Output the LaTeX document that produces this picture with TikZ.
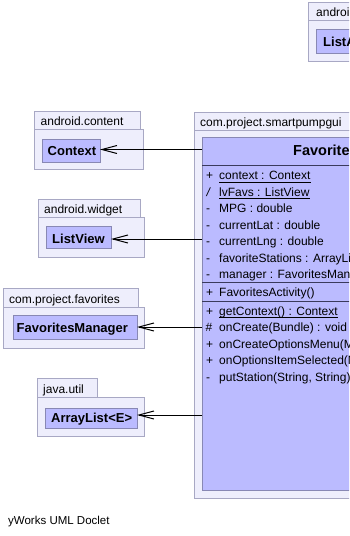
\documentclass[tikz,border=0pt]{standalone}
\usepackage{fontspec}
\setmainfont{Liberation Sans}
\usetikzlibrary{arrows.meta}
\definecolor{pkgfill}{HTML}{EEEEFC}
\definecolor{pkgline}{HTML}{A8A8C4}
\definecolor{clsfill}{HTML}{BBBBFF}
\definecolor{clsline}{HTML}{8888B4}
\definecolor{sepline}{HTML}{3A3A5C}

\begin{document}
\begin{tikzpicture}[x=1pt,y=-1pt,
  pkg/.style={draw=pkgline, fill=pkgfill, line width=1pt, anchor=north west, inner sep=0, outer sep=0},
  cls/.style={draw=clsline, fill=clsfill, line width=1pt, anchor=north west, inner sep=0, outer sep=0},
  pkglabel/.style={anchor=base west, inner sep=0, font=\fontsize{12}{14}\selectfont},
  clsname/.style={anchor=base west, inner sep=0, font=\fontsize{13}{15}\selectfont\bfseries},
  member/.style={anchor=base west, inner sep=0, font=\fontsize{12}{14}\selectfont},
  vis/.style={anchor=base west, inner sep=0, font=\fontsize{12}{14}\selectfont},
  sep/.style={draw=sepline, line width=1pt},
  uline/.style={draw=black, line width=0.9pt},
  dep/.style={draw=black, line width=1pt, -{Straight Barb[length=15pt,width=8pt,line width=1pt]}}
]
\useasboundingbox (0,0) rectangle (349,536);
\clip (0,0) rectangle (349,536);

% ---------- package android.widget (top right) ----------
\node[pkg, minimum width=120, minimum height=18] (pTopTab) at (308,2) {};
\node[pkg, minimum width=120, minimum height=41] (pTop) at (308,20) {};
\node[pkglabel] (pTopLbl) at (316,16) {android.widget};
\node[cls, minimum width=90, minimum height=24] (listAdapter) at (316,29) {};
\node[clsname] (listAdapterLbl) at (323,46.5) {ListAdapter};

% ---------- package com.project.smartpumpgui ----------
\node[pkg, minimum width=170, minimum height=18] (pMainTab) at (194,112) {};
\node[pkg, minimum width=320, minimum height=368] (pMain) at (194,130) {};
\node[pkglabel] (pMainLbl) at (200,126) {com.project.smartpumpgui};

\node[cls, minimum width=300, minimum height=353] (fav) at (202,137) {};
\node[anchor=base west, inner sep=0, font=\fontsize{14.5}{16}\selectfont\bfseries] (favLbl) at (293,155) {FavoritesActivity};
\draw[sep] (202,165) -- (502,165);
\draw[sep] (202,282) -- (502,282);
\draw[sep] (202,301) -- (502,301);

% attributes
\node[vis] (v1) at (206,179.5) {+};
\node[member] (m1) at (219,179.5) {context : Context};
\node[vis] (v2) at (206.5,196) {\itshape /};
\node[member] (m2) at (219,196) {lvFavs : ListView};
\node[vis] (v3) at (206,212.5) {-};
\node[member] (m3) at (219,212.5) {MPG : double};
\node[vis] (v4) at (206,229) {-};
\node[member] (m4) at (219,229) {currentLat : double};
\node[vis] (v5) at (206,245.5) {-};
\node[member] (m5) at (219,245.5) {currentLng : double};
\node[vis] (v6) at (206,262) {-};
\node[member] (m6) at (219,262) {favoriteStations : ArrayList};
\node[vis] (v7) at (206,278) {-};
\node[member] (m7) at (219,278) {manager : FavoritesManager};
\draw[uline] ([yshift=-2.5pt]m1.base west) -- ([yshift=-2.5pt]m1.base east);
\draw[uline] ([yshift=-2.5pt]m2.base west) -- ([yshift=-2.5pt]m2.base east);

% constructor
\node[vis] (v8) at (206,296.5) {+};
\node[member] (m8) at (219,296.5) {FavoritesActivity()};

% operations
\node[vis] (v9) at (206,315) {+};
\node[member] (m9) at (219,315) {getContext() : Context};
\node[vis] (v10) at (205.5,331.5) {\#};
\node[member] (m10) at (219,331.5) {onCreate(Bundle) : void};
\node[vis] (v11) at (206,348) {+};
\node[member] (m11) at (219,348) {onCreateOptionsMenu(Menu) : boolean};
\node[vis] (v12) at (206,364.5) {+};
\node[member] (m12) at (219,364.5) {onOptionsItemSelected(MenuItem) : boolean};
\node[vis] (v13) at (206,381) {-};
\node[member] (m13) at (219,381) {putStation(String, String) : void};
\draw[uline] ([yshift=-2pt]m9.base west) -- ([yshift=-2pt]m9.base east);

% ---------- package android.content ----------
\node[pkg, minimum width=106, minimum height=18] (pContentTab) at (34,111) {};
\node[pkg, minimum width=109, minimum height=40] (pContent) at (34,129) {};
\node[pkglabel] (pContentLbl) at (40.5,125.3) {android.content};
\node[cls, minimum width=58, minimum height=23] (ctx) at (42,139) {};
\node[clsname] (ctxLbl) at (47.5,155) {Context};

% ---------- package android.widget ----------
\node[pkg, minimum width=102, minimum height=18] (pWidgetTab) at (38,199) {};
\node[pkg, minimum width=106, minimum height=40] (pWidget) at (38,217) {};
\node[pkglabel] (pWidgetLbl) at (44,213.5) {android.widget};
\node[cls, minimum width=65, minimum height=22] (lv) at (46,226) {};
\node[clsname] (lvLbl) at (52,243.5) {ListView};

% ---------- package com.project.favorites ----------
\node[pkg, minimum width=135, minimum height=19] (pFavTab) at (3,288) {};
\node[pkg, minimum width=141, minimum height=41] (pFav) at (3,307) {};
\node[pkglabel] (pFavLbl) at (9,303) {com.project.favorites};
\node[cls, minimum width=124, minimum height=24] (fm) at (13,315) {};
\node[clsname] (fmLbl) at (16.5,332.5) {FavoritesManager};

% ---------- package java.util ----------
\node[pkg, minimum width=60, minimum height=19] (pUtilTab) at (37,378) {};
\node[pkg, minimum width=107, minimum height=39] (pUtil) at (37,397) {};
\node[pkglabel] (pUtilLbl) at (43,393) {java.util};
\node[cls, minimum width=92, minimum height=20] (al) at (45,408) {};
\node[clsname] (alLbl) at (51,422) {ArrayList<E>};

% ---------- dependencies ----------
\coordinate (dCtx) at (100,149.5);
\coordinate (dLv) at (111,239);
\coordinate (dFm) at (137,327);
\coordinate (dAl) at (137,415);
\draw[dep] (dCtx -| fav.west) -- (dCtx);
\draw[dep] (dLv -| fav.west) -- (dLv);
\draw[dep] (dFm -| fav.west) -- (dFm);
\draw[dep] (dAl -| fav.west) -- (dAl);

% ---------- footer ----------
\node[anchor=base west, inner sep=0, font=\fontsize{11.5}{13}\selectfont] (footer) at (8,524) {yWorks UML Doclet};
\end{tikzpicture}
\end{document}
